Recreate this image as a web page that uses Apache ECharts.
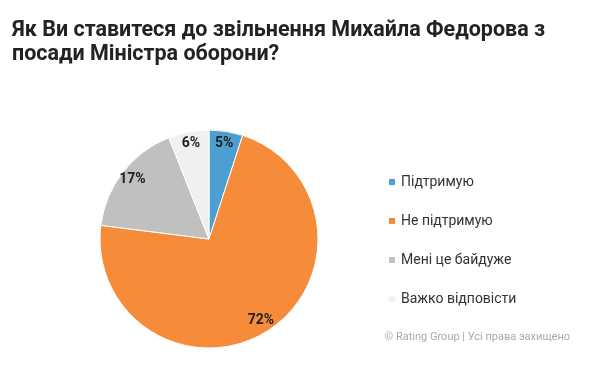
<!DOCTYPE html>
<html>
<head>
<meta charset="utf-8">
<script src="https://cdn.jsdelivr.net/npm/echarts@6/dist/echarts.min.js"></script>
<style>
  html, body { margin: 0; padding: 0; background: #fff; }
  #main { width: 600px; height: 371px; }
</style>
</head>
<body>
<div id="main"></div>
<script>
var categories = ['Підтримую', 'Не підтримую', 'Мені це байдуже', 'Важко відповісти'];
var values = [5, 72, 17, 6];
var colors = ['#4e9fd1', '#f68b39', '#c0c0c0', '#f0f0f0'];

var chartDom = document.getElementById('main');
var myChart = echarts.init(chartDom);

var pieData = categories.map(function (name, i) {
    return { name: name, value: values[i], itemStyle: { color: colors[i] } };
});
var labelData = categories.map(function (name, i) {
    return { name: name, value: values[i] };
});

var option = {
    animation: false,
    title: {
        text: 'Як Ви ставитеся до звільнення Михайла Федорова з\nпосади Міністра оборони?',
        left: 12,
        top: 19,
        padding: 0,
        textStyle: {
            fontFamily: 'Roboto',
            fontSize: 21.5,
            lineHeight: 24,
            fontWeight: 'bold',
            color: '#222'
        }
    },
    legend: {
        orient: 'vertical',
        left: 382,
        top: 170,
        itemWidth: 8,
        itemHeight: 8,
        itemGap: 25,
        icon: 'rect',
        data: categories,
        textStyle: {
            fontFamily: 'Roboto',
            fontSize: 14,
            color: '#333'
        }
    },
    graphic: [{
        type: 'text',
        right: 30,
        top: 332,
        style: {
            text: '© Rating Group | Усі права захищено',
            fontFamily: 'Roboto',
            fontSize: 11,
            fill: '#aaa'
        }
    }],
    series: [
        {
            name: 'main',
            type: 'pie',
            center: [209, 239],
            radius: [0, 109],
            startAngle: 90,
            clockwise: true,
            data: pieData,
            label: { show: false },
            labelLine: { show: false },
            itemStyle: { borderColor: '#fff', borderWidth: 1 },
            emphasis: { disabled: true }
        },
        {
            name: 'labels',
            type: 'pie',
            center: [209, 239],
            radius: [79, 109],
            startAngle: 90,
            clockwise: true,
            silent: true,
            data: labelData,
            itemStyle: { color: 'transparent' },
            label: {
                show: true,
                position: 'inside',
                formatter: '{c}%',
                fontFamily: 'Roboto',
                fontSize: 14,
                fontWeight: 'bold',
                color: '#222'
            },
            labelLine: { show: false },
            emphasis: { disabled: true }
        }
    ]
};

option && myChart.setOption(option);
</script>
</body>
</html>
